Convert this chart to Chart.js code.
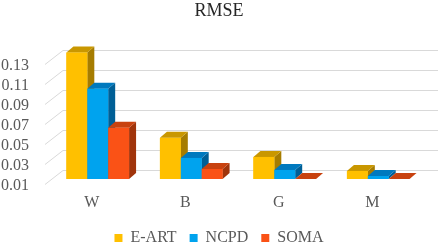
<!DOCTYPE html>
<html>
<head>
<meta charset="utf-8">
<script src="https://cdn.jsdelivr.net/npm/chart.js@4"></script>
<style>
    html, body { margin: 0; padding: 0; background: #fff; }
    #box { width: 438px; height: 245px; }
</style>
</head>
<body>
<div id="box"><canvas id="rmseChart"></canvas></div>
<script>
const categories = ['W', 'B', 'G', 'M'];
const eartValues = [0.136, 0.051, 0.032, 0.018];
const ncpdValues = [0.100, 0.031, 0.019, 0.013];
const somaValues = [0.061, 0.020, 0.010, 0.010];
const yTicks = [0.01, 0.03, 0.05, 0.07, 0.09, 0.11, 0.13];
const yMin = 0.01, yMax = 0.14;

const serif = "'Liberation Serif', 'Times New Roman', serif";
const frontColors = ['#FFC000', '#00A3EE', '#FA5216'];
const topColors = ['#C99700', '#0079BE', '#C8420F'];
const sideColors = ['#A67C00', '#005F96', '#A0340B'];
const DX = 7, DY = 6;

// fake 3d: back wall gridlines + side/top faces of each bar
const depthPlugin = {
    id: 'depth',
    beforeDatasetsDraw(chart) {
        const ctx = chart.ctx;
        const area = chart.chartArea;
        const y = chart.scales.y;
        ctx.save();
        ctx.strokeStyle = '#d9d9d9';
        ctx.lineWidth = 1;
        yTicks.forEach(v => {
            const py = Math.round(y.getPixelForValue(v)) + 0.5;
            ctx.beginPath();
            ctx.moveTo(area.left - 6, py + 5);
            ctx.lineTo(area.left + 12, py - 9);
            ctx.lineTo(chart.width, py - 9);
            ctx.stroke();
        });
        ctx.restore();
    },
    afterDatasetsDraw(chart) {
        const ctx = chart.ctx;
        ctx.save();
        categories.forEach((c, i) => {
            chart.data.datasets.forEach((ds, d) => {
                const bar = chart.getDatasetMeta(d).data[i];
                const {x, y, base, width} = bar.getProps(['x', 'y', 'base', 'width'], true);
                const x0 = x - width / 2, x1 = x + width / 2;

                ctx.fillStyle = sideColors[d];
                ctx.beginPath();
                ctx.moveTo(x1, y);
                ctx.lineTo(x1 + DX, y - DY);
                ctx.lineTo(x1 + DX, base - DY);
                ctx.lineTo(x1, base);
                ctx.closePath();
                ctx.fill();

                ctx.fillStyle = topColors[d];
                ctx.beginPath();
                ctx.moveTo(x0, y);
                ctx.lineTo(x0 + DX, y - DY);
                ctx.lineTo(x1 + DX, y - DY);
                ctx.lineTo(x1, y);
                ctx.closePath();
                ctx.fill();

                ctx.fillStyle = frontColors[d];
                ctx.fillRect(x0, y, width, base - y);
            });
        });
        ctx.restore();
    }
};

new Chart(document.getElementById('rmseChart'), {
    type: 'bar',
    data: {
        labels: categories,
        datasets: [
            {label: 'E-ART', data: eartValues, backgroundColor: frontColors[0], base: yMin},
            {label: 'NCPD', data: ncpdValues, backgroundColor: frontColors[1], base: yMin},
            {label: 'SOMA', data: somaValues, backgroundColor: frontColors[2], base: yMin}
        ]
    },
    options: {
        responsive: true,
        maintainAspectRatio: false,
        animation: false,
        categoryPercentage: 0.67,
        barPercentage: 1,
        layout: {padding: {left: 0, right: 0, top: 0, bottom: -11}},
        scales: {
            x: {
                grid: {display: false},
                border: {display: false},
                afterFit: scale => {
                    scale.height = 38;
                },
                ticks: {
                    font: {family: serif, size: 16},
                    color: '#595959',
                    padding: 6,
                    labelOffset: -6
                }
            },
            y: {
                min: yMin,
                max: yMax,
                grid: {display: false},
                border: {display: false},
                afterBuildTicks: scale => {
                    scale.ticks = yTicks.map(v => ({value: v}));
                },
                afterFit: scale => {
                    scale.width = 51;
                },
                ticks: {
                    autoSkip: false,
                    font: {family: serif, size: 16},
                    color: '#595959',
                    padding: 14,
                    labelOffset: 7,
                    callback: v => v.toFixed(2)
                }
            },
            // empty right axis, only keeps the plot off the right edge
            yRight: {
                position: 'right',
                grid: {display: false},
                border: {display: false},
                ticks: {display: false},
                afterFit: scale => {
                    scale.width = 13;
                }
            }
        },
        plugins: {
            title: {
                display: true,
                text: 'RMSE',
                color: '#262626',
                font: {family: serif, size: 18, weight: 'normal'},
                padding: {top: 0, bottom: 27}
            },
            legend: {
                position: 'bottom',
                labels: {
                    boxWidth: 8,
                    boxHeight: 8,
                    padding: 13,
                    color: '#595959',
                    font: {family: serif, size: 16}
                }
            },
            tooltip: {enabled: false}
        }
    },
    plugins: [depthPlugin]
});
</script>
</body>
</html>
